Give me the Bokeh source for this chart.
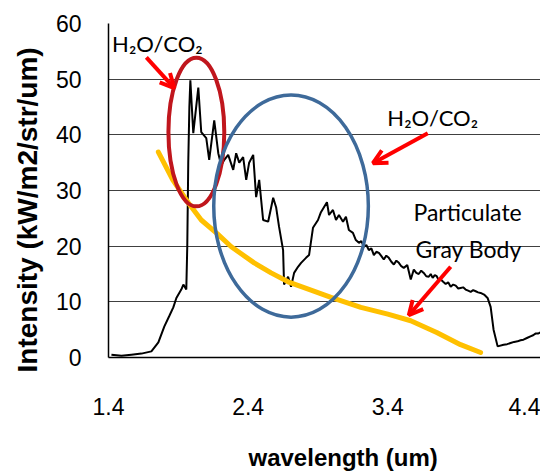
from bokeh.plotting import figure
from bokeh.models import Range1d, FixedTicker, Arrow, OpenHead, Label, Title
from bokeh.embed import file_html
from bokeh.resources import INLINE

# ---- data ----
wavelength = [1.421, 1.493, 1.564, 1.636, 1.707, 1.757, 1.800, 1.836, 1.864, 1.886,
              1.921, 1.936, 1.957, 1.964, 1.971, 1.979, 1.986, 2.007, 2.043, 2.064,
              2.100, 2.121, 2.157, 2.186, 2.207, 2.229, 2.257, 2.293, 2.314, 2.336,
              2.364, 2.386, 2.407, 2.436, 2.457, 2.479, 2.507, 2.543, 2.579, 2.600,
              2.621, 2.650, 2.657, 2.686, 2.707, 2.729, 2.757, 2.779, 2.814, 2.836,
              2.864, 2.900, 2.921, 2.964, 2.979, 3.007, 3.029, 3.050, 3.079, 3.100,
              3.121, 3.150, 3.171, 3.193, 3.210, 3.229, 3.246, 3.264, 3.282, 3.300,
              3.318, 3.336, 3.354, 3.371, 3.389, 3.407, 3.425, 3.443, 3.461, 3.479,
              3.496, 3.514, 3.539, 3.564, 3.586, 3.604, 3.621, 3.639, 3.657, 3.675,
              3.693, 3.707, 3.721, 3.736, 3.750, 3.764, 3.779, 3.796, 3.814, 3.832,
              3.850, 3.868, 3.886, 3.904, 3.921, 3.939, 3.957, 3.975, 3.993, 4.011,
              4.029, 4.046, 4.064, 4.089, 4.114, 4.136, 4.157, 4.186, 4.229, 4.254,
              4.279, 4.304, 4.329, 4.350, 4.371, 4.396, 4.421, 4.440, 4.457, 4.475,
              4.493]
intensity = [0.5, 0.3, 0.5, 0.7, 1.1, 2.7, 5.6, 7.5, 9.0, 10.7,
             12.2, 13.1, 12.2, 20.0, 35.0, 45.0, 49.8, 40.3, 48.5, 40.5,
             39.4, 35.5, 42.6, 36.7, 34.5, 35.5, 36.4, 33.7, 36.7, 35.0,
             36.0, 31.9, 35.0, 36.4, 28.8, 31.9, 24.7, 24.4, 28.7, 27.0,
             23.5, 19.3, 13.1, 14.5, 12.7, 15.2, 16.3, 17.0, 17.9, 18.4,
             23.3, 24.7, 26.1, 27.9, 25.6, 26.5, 24.7, 25.6, 24.4, 25.3,
             22.9, 22.4, 21.1, 20.6, 20.9, 19.9, 20.2, 19.3, 19.6, 18.4,
             19.0, 18.8, 18.2, 17.6, 18.3, 17.9, 17.2, 16.7, 17.4, 17.0,
             16.4, 16.1, 16.6, 14.0, 15.8, 15.2, 15.0, 15.6, 15.2, 14.6,
             14.5, 15.0, 14.3, 14.8, 14.6, 13.9, 14.0, 13.6, 13.2, 13.5,
             12.7, 13.1, 12.9, 12.4, 12.5, 12.6, 12.2, 12.0, 11.8, 12.1,
             11.9, 11.7, 11.6, 11.3, 10.7, 9.1, 5.0, 2.0, 2.3, 2.4,
             2.6, 2.8, 2.9, 3.1, 3.2, 3.5, 3.8, 4.0, 4.3, 4.3,
             4.5]

graybody_wl = [1.757, 1.860, 1.971, 2.064, 2.180, 2.279, 2.443, 2.564, 2.686,
               2.850, 2.993, 3.207, 3.400, 3.564, 3.750, 3.921, 4.064]
graybody_int = [36.9, 31.9, 27.8, 24.7, 22.2, 19.9, 17.0, 15.2, 13.6,
                12.1, 10.8, 9.0, 7.8, 6.6, 4.5, 2.3, 0.9]

x_ticks = [1.4, 2.4, 3.4, 4.4]
y_ticks = [0, 10, 20, 30, 40, 50, 60]

p = figure(width=540, height=472, output_backend="svg", toolbar_location=None,
           x_range=Range1d(1.4, 4.493), y_range=Range1d(0, 60),
           min_border_left=107, min_border_right=0, min_border_top=23,
           min_border_bottom=114)
p.outline_line_color = None
p.background_fill_color = "white"

# axes
for ax in (p.xaxis, p.yaxis):
    ax.major_tick_line_color = None
    ax.minor_tick_line_color = None
    ax.axis_line_color = "black"
    ax.axis_line_width = 1.5
    ax.major_label_text_font = "Liberation Sans"
    ax.major_label_text_font_size = "23px"
    ax.major_label_text_color = "black"

p.xaxis.ticker = FixedTicker(ticks=x_ticks)
p.yaxis.ticker = FixedTicker(ticks=y_ticks)
p.xaxis.major_label_standoff = 34
p.yaxis.major_label_standoff = 21

p.xgrid.visible = False
p.ygrid.ticker = FixedTicker(ticks=y_ticks)
p.ygrid.grid_line_color = "#404040"
p.ygrid.grid_line_width = 1

# spacer between x tick labels and the x title
p.add_layout(Title(text=" ", text_font_size="2px", standoff=18), "below")
# axis titles as side titles (allow off-centre placement like the reference)
p.add_layout(Title(text="wavelength (um)", align="left", offset=140, standoff=4,
                   text_font="Liberation Sans", text_font_size="24px",
                   text_font_style="bold", text_color="black"), "below")
p.add_layout(Title(text="Intensity (kW/m2/str/um)", align="left", offset=-15, standoff=19,
                   text_font="Liberation Sans", text_font_size="28px",
                   text_font_style="bold", text_color="black"), "left")

# spectrum
p.line(wavelength, intensity, line_color="black", line_width=2)
# gray body curve
p.line(graybody_wl, graybody_int, line_color="#ffc000", line_width=5, line_cap="round",
       line_join="round")

# ellipses
p.ellipse(x=2.029, y=40.5, width=0.40, height=26.7, fill_color=None,
          line_color="#c0161d", line_width=4)
p.ellipse(x=2.707, y=27.2, width=1.107, height=39.9, fill_color=None,
          line_color="#3e6a9a", line_width=3.5)

# arrows
for (x0, y0, x1, y1) in [(1.671, 53.9, 1.871, 48.4),
                         (3.686, 40.3, 3.293, 34.9),
                         (3.850, 16.3, 3.550, 7.6)]:
    p.add_layout(Arrow(x_start=x0, y_start=y0, x_end=x1, y_end=y1,
                       line_color="#ff0000", line_width=4,
                       end=OpenHead(line_color="#ff0000", line_width=4, size=14)))

# labels
for (tx, ty, tt, fs) in [(1.75, 56.4, "H₂O/CO₂", "22px"), (3.721, 43.2, "H₂O/CO₂", "22px"),
                         (3.971, 26.2, "Particulate", "23px"), (3.979, 19.5, "Gray Body", "23px")]:
    p.add_layout(Label(x=tx, y=ty, text=tt, text_font="Lato", text_font_size=fs,
                       text_align="center", text_baseline="middle", text_color="black"))

open("out.html", "w").write(file_html(p, INLINE))
